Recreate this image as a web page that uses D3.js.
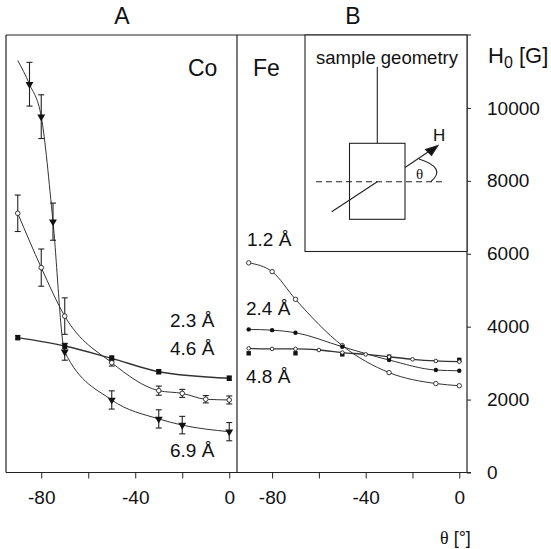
<!DOCTYPE html>
<html>
<head>
<meta charset="utf-8">
<script src="https://cdn.jsdelivr.net/npm/d3@7"></script>
<style>
  body { margin: 0; background: #fff; }
  svg { font-family: "Liberation Sans", Arial, sans-serif; }
  .axis text { font-size: 19px; fill: #111; }
  .axis line { stroke: #222; }
</style>
</head>
<body>
<div id="chart"></div>
<script>
// Co panel (A)
const co23Angles = [-90, -70, -50, -30, 0];
const co23 = [3700, 3470, 3130, 2765, 2585];
const co23Err = [60, 70, 70, 60, 60];

const co46Angles = [-90, -80, -70, -50, -30, -20, -10, 0];
const co46 = [7110, 5620, 4290, 3010, 2245, 2170, 2010, 1990];
const co46Err = [500, 510, 500, 90, 125, 110, 100, 110];

const co69Angles = [-85, -80, -75, -70, -50, -30, -20, 0];
const co69 = [10650, 9760, 6880, 3310, 1990, 1470, 1300, 1120];
const co69Err = [600, 600, 510, 230, 250, 250, 240, 250];
// fitted curve starts a bit before the first measured point
const co69FitStart = [-90, 11300];

// Fe panel (B)
const fe12Angles = [-90, -80, -70, -50, -30, -10, 0];
const fe12 = [5750, 5510, 4750, 3480, 2740, 2440, 2380];

const fe24Angles = [-90, -80, -70, -50, -30, -10, 0];
const fe24 = [3925, 3905, 3835, 3450, 3085, 2810, 2790];

const fe48Angles = [-90, -80, -70, -60, -50, -40, -30, -20, -10, 0];
const fe48 = [3405, 3390, 3390, 3360, 3290, 3240, 3175, 3105, 3060, 3040];
const fe48bAngles = [-90, -70, -50, -30, 0];
const fe48b = [3270, 3270, 3240, 3176, 3090];

const xTicks = [-80, -60, -40, -20, 0];
const xTickLabels = [-80, -40, 0];
const yTicks = [0, 2000, 4000, 6000, 8000, 10000];

const W = 551, H = 549;
const plotTop = 35, plotBottom = 472.5;
const aLeft = 6, mid = 237, bRight = 467;

const svg = d3.select("#chart").append("svg")
  .attr("width", W).attr("height", H);

const y = d3.scaleLinear().domain([0, 12000]).range([plotBottom, plotTop]);
const xA = d3.scaleLinear().domain([-95, 3.3]).range([aLeft, mid]);
const xB = d3.scaleLinear().domain([-95, 3.3]).range([mid, bRight]);

// frame
const frame = svg.append("g").attr("stroke", "#222").attr("stroke-width", 1.2).attr("fill", "none");
frame.append("line").attr("x1", aLeft).attr("x2", 471).attr("y1", plotTop).attr("y2", plotTop);
frame.append("line").attr("x1", aLeft).attr("x2", 471).attr("y1", plotBottom).attr("y2", plotBottom);
frame.append("line").attr("x1", aLeft).attr("x2", aLeft).attr("y1", plotTop).attr("y2", plotBottom);
frame.append("line").attr("x1", mid).attr("x2", mid).attr("y1", plotTop).attr("y2", plotBottom);
frame.append("line").attr("x1", bRight).attr("x2", bRight).attr("y1", plotTop).attr("y2", plotBottom);

// axes
function xAxis(scale) {
  const g = svg.append("g").attr("class", "axis")
    .attr("transform", "translate(0," + plotBottom + ")")
    .call(d3.axisBottom(scale).tickValues(xTicks).tickSize(6).tickPadding(8)
      .tickFormat(d => xTickLabels.includes(d) ? String(d) : ""));
  g.select(".domain").remove();
  g.selectAll("text").attr("dy", "0.9em");
}
xAxis(xA);
xAxis(xB);

const yg = svg.append("g").attr("class", "axis")
  .attr("transform", "translate(" + bRight + ",0)")
  .call(d3.axisRight(y).tickValues(yTicks).tickSize(4).tickPadding(16)
    .tickFormat(d => String(d)));
yg.select(".domain").remove();

// error bars
function errorBars(xs, angles, vals, errs, cap) {
  const g = svg.append("g").attr("stroke", "#222").attr("stroke-width", 1.1);
  angles.forEach((a, i) => {
    const cx = xs(a), y1 = y(vals[i] + errs[i]), y2 = y(vals[i] - errs[i]);
    g.append("line").attr("x1", cx).attr("x2", cx).attr("y1", y1).attr("y2", y2);
    g.append("line").attr("x1", cx - cap).attr("x2", cx + cap).attr("y1", y1).attr("y2", y1);
    g.append("line").attr("x1", cx - cap).attr("x2", cx + cap).attr("y1", y2).attr("y2", y2);
  });
}

function curve(xs, angles, vals, w) {
  const pts = angles.map((a, i) => [a, vals[i]]);
  svg.append("path")
    .datum(pts)
    .attr("fill", "none")
    .attr("stroke", "#333")
    .attr("stroke-width", w || 1)
    .attr("d", d3.line().x(d => xs(d[0])).y(d => y(d[1])).curve(d3.curveMonotoneX));
}

function markers(xs, angles, vals, type, size) {
  const g = svg.append("g");
  angles.forEach((a, i) => {
    const cx = xs(a), cy = y(vals[i]);
    if (type === "open") {
      g.append("circle").attr("cx", cx).attr("cy", cy).attr("r", size)
        .attr("fill", "#fff").attr("stroke", "#222").attr("stroke-width", 0.9);
    } else if (type === "dot") {
      g.append("circle").attr("cx", cx).attr("cy", cy).attr("r", size).attr("fill", "#111");
    } else if (type === "square") {
      g.append("rect").attr("x", cx - size).attr("y", cy - size)
        .attr("width", size * 2).attr("height", size * 2).attr("fill", "#111");
    } else if (type === "tri") {
      g.append("path")
        .attr("d", d3.symbol().type(d3.symbolTriangle).size(size * size * 3)())
        .attr("transform", "translate(" + cx + "," + cy + ") rotate(180)")
        .attr("fill", "#111");
    }
  });
}

// Co curves
curve(xA, co23Angles, co23, 1.4);
curve(xA, co46Angles, co46, 1);
curve(xA, [co69FitStart[0]].concat(co69Angles), [co69FitStart[1]].concat(co69), 1);

errorBars(xA, co23Angles, co23, co23Err, 2.5);
errorBars(xA, co46Angles, co46, co46Err, 3);
errorBars(xA, co69Angles, co69, co69Err, 3);

markers(xA, co23Angles, co23, "square", 2.5);
markers(xA, co46Angles, co46, "open", 2.3);
markers(xA, co69Angles, co69, "tri", 3);

// Fe curves
curve(xB, fe12Angles, fe12, 1);
curve(xB, fe24Angles, fe24, 1);
curve(xB, fe48Angles, fe48, 1.3);
markers(xB, fe48bAngles, fe48b, "square", 2.2);
markers(xB, fe12Angles, fe12, "open", 2.2);
markers(xB, fe24Angles, fe24, "dot", 2.2);
markers(xB, fe48Angles, fe48, "open", 1.8);

// inset: sample geometry
const inset = svg.append("g").attr("stroke", "#222").attr("fill", "none").attr("stroke-width", 1.1);
inset.append("rect").attr("x", 305).attr("y", plotTop).attr("width", bRight - 305).attr("height", 251.5 - plotTop)
  .attr("fill", "#fff");
inset.append("line").attr("x1", 377.3).attr("x2", 377.3).attr("y1", 67).attr("y2", 143.3);
inset.append("rect").attr("x", 349.5).attr("y", 143.3).attr("width", 55.5).attr("height", 76);
inset.append("line").attr("x1", 316).attr("x2", 444).attr("y1", 181.7).attr("y2", 181.7)
  .attr("stroke-dasharray", "6,4");
inset.append("line").attr("x1", 331.7).attr("y1", 211.7).attr("x2", 377.3).attr("y2", 181.7);
inset.append("line").attr("x1", 405).attr("y1", 167.5).attr("x2", 431).attr("y2", 150);
inset.append("path").attr("d", "M438,145.5 L425.5,149.5 L431.5,155.5 Z").attr("fill", "#111");
inset.append("path").attr("d", "M419,159 Q447,168 431,181.5");

const txt = svg.append("g").attr("fill", "#111");
txt.append("text").attr("x", 387).attr("y", 64).attr("text-anchor", "middle")
  .style("font-size", "18.5px").text("sample geometry");
txt.append("text").attr("x", 433).attr("y", 141).style("font-size", "17px").text("H");
txt.append("text").attr("x", 416).attr("y", 179)
  .style("font-family", "'Liberation Serif', 'Times New Roman', serif").style("font-size", "15px").text("θ");

// panel titles & labels
txt.append("text").attr("x", 122).attr("y", 24).attr("text-anchor", "middle").style("font-size", "23px").text("A");
txt.append("text").attr("x", 353).attr("y", 24).attr("text-anchor", "middle").style("font-size", "23px").text("B");
txt.append("text").attr("x", 188).attr("y", 76).style("font-size", "23px").text("Co");
txt.append("text").attr("x", 253).attr("y", 76).style("font-size", "23px").text("Fe");

const hl = txt.append("text").attr("x", 488).attr("y", 63).style("font-size", "22px");
hl.append("tspan").text("H");
hl.append("tspan").attr("dy", 5).style("font-size", "16px").text("0");
hl.append("tspan").attr("dy", -5).text(" [G]");

const xl = txt.append("text").attr("x", 440).attr("y", 544).style("font-size", "18px");
xl.append("tspan").style("font-family", "'Liberation Serif', 'Times New Roman', serif").text("θ");
xl.append("tspan").text(" [°]");

txt.append("text").attr("x", 170).attr("y", 327).style("font-size", "19px").text("2.3 Å");
txt.append("text").attr("x", 170).attr("y", 355).style("font-size", "19px").text("4.6 Å");
txt.append("text").attr("x", 170).attr("y", 457).style("font-size", "19px").text("6.9 Å");
txt.append("text").attr("x", 247).attr("y", 246).style("font-size", "19px").text("1.2 Å");
txt.append("text").attr("x", 246).attr("y", 315).style("font-size", "19px").text("2.4 Å");
txt.append("text").attr("x", 246).attr("y", 383).style("font-size", "19px").text("4.8 Å");
</script>
</body>
</html>
